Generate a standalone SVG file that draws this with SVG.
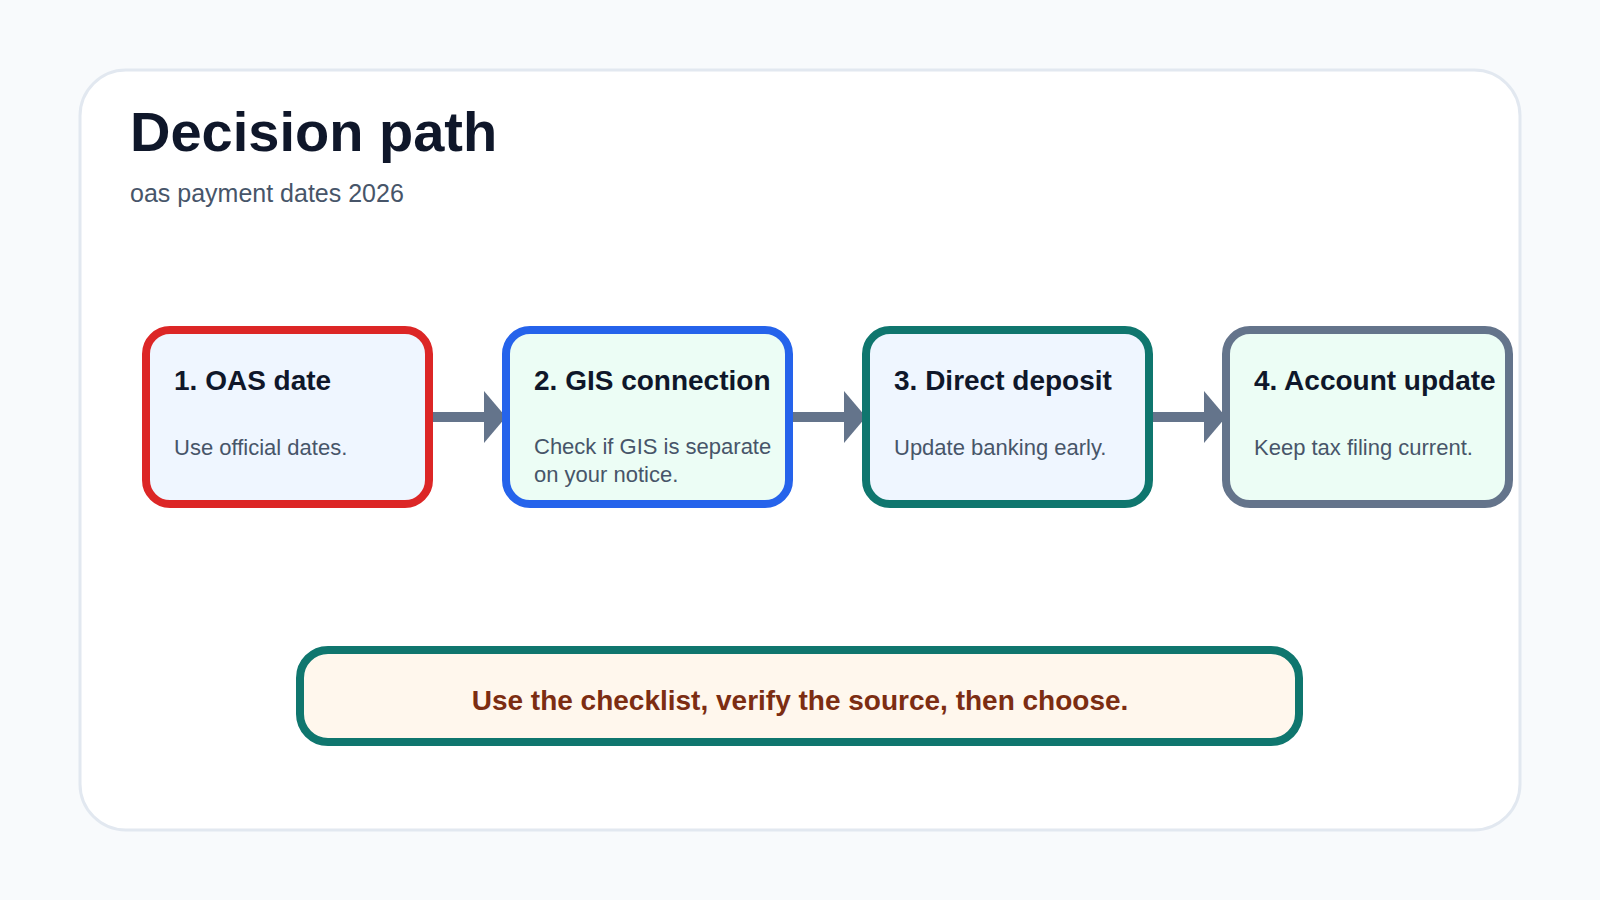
<svg xmlns="http://www.w3.org/2000/svg" width="1600" height="900" viewBox="0 0 1600 900">
  <defs>
    <marker id="arrow" markerUnits="userSpaceOnUse" markerWidth="24" markerHeight="54" refX="22" refY="26" orient="auto">
      <path d="M0,0 L22,26 L0,52 Z" fill="#64748b"/>
    </marker>
    <style>
      .title { font-family: "Liberation Sans", Arial, sans-serif; font-weight: 700; font-size: 56px; fill: #0f172a; }
      .subtitle { font-family: "Liberation Sans", Arial, sans-serif; font-size: 25px; fill: #475569; }
      .node-rect { stroke-width: 8; }
      .node-title { font-family: "Liberation Sans", Arial, sans-serif; font-weight: 700; font-size: 28px; fill: #0f172a; }
      .node-body { font-family: "Liberation Sans", Arial, sans-serif; font-size: 22px; fill: #475569; }
      .edge { stroke: #64748b; stroke-width: 10; stroke-linecap: round; fill: none; }
      .banner-text { font-family: "Liberation Sans", Arial, sans-serif; font-weight: 700; font-size: 28px; fill: #7c2d12; }
    </style>
  </defs>

  <rect x="0" y="0" width="1600" height="900" fill="#f8fafc"/>
  <rect x="80" y="70" width="1440" height="760" rx="46" fill="#ffffff" stroke="#e2e8f0" stroke-width="3"/>

  <text class="title" x="130" y="151">Decision path</text>
  <text class="subtitle" x="130" y="202">oas payment dates 2026</text>

  <g id="connectors">
    <path class="edge" d="M429,417 L506,417" marker-end="url(#arrow)"/>
    <path class="edge" d="M789,417 L866,417" marker-end="url(#arrow)"/>
    <path class="edge" d="M1149,417 L1226,417" marker-end="url(#arrow)"/>
  </g>

  <g id="node1">
    <rect class="node-rect" x="146" y="330" width="283" height="174" rx="24" fill="#eff6ff" stroke="#dc2626"/>
    <text class="node-title" x="174" y="390">1. OAS date</text>
    <text class="node-body" x="174" y="455">Use official dates.</text>
  </g>

  <g id="node2">
    <rect class="node-rect" x="506" y="330" width="283" height="174" rx="24" fill="#ecfdf5" stroke="#2563eb"/>
    <text class="node-title" x="534" y="390">2. GIS connection</text>
    <text class="node-body" x="534" y="454">Check if GIS is separate</text>
    <text class="node-body" x="534" y="482">on your notice.</text>
  </g>

  <g id="node3">
    <rect class="node-rect" x="866" y="330" width="283" height="174" rx="24" fill="#eff6ff" stroke="#0f766e"/>
    <text class="node-title" x="894" y="390">3. Direct deposit</text>
    <text class="node-body" x="894" y="455">Update banking early.</text>
  </g>

  <g id="node4">
    <rect class="node-rect" x="1226" y="330" width="283" height="174" rx="24" fill="#ecfdf5" stroke="#64748b"/>
    <text class="node-title" x="1254" y="390">4. Account update</text>
    <text class="node-body" x="1254" y="455">Keep tax filing current.</text>
  </g>

  <g id="banner">
    <rect x="300" y="650" width="999" height="92" rx="28" fill="#fff7ed" stroke="#0f766e" stroke-width="8"/>
    <text class="banner-text" x="800" y="710" text-anchor="middle">Use the checklist, verify the source, then choose.</text>
  </g>
</svg>
